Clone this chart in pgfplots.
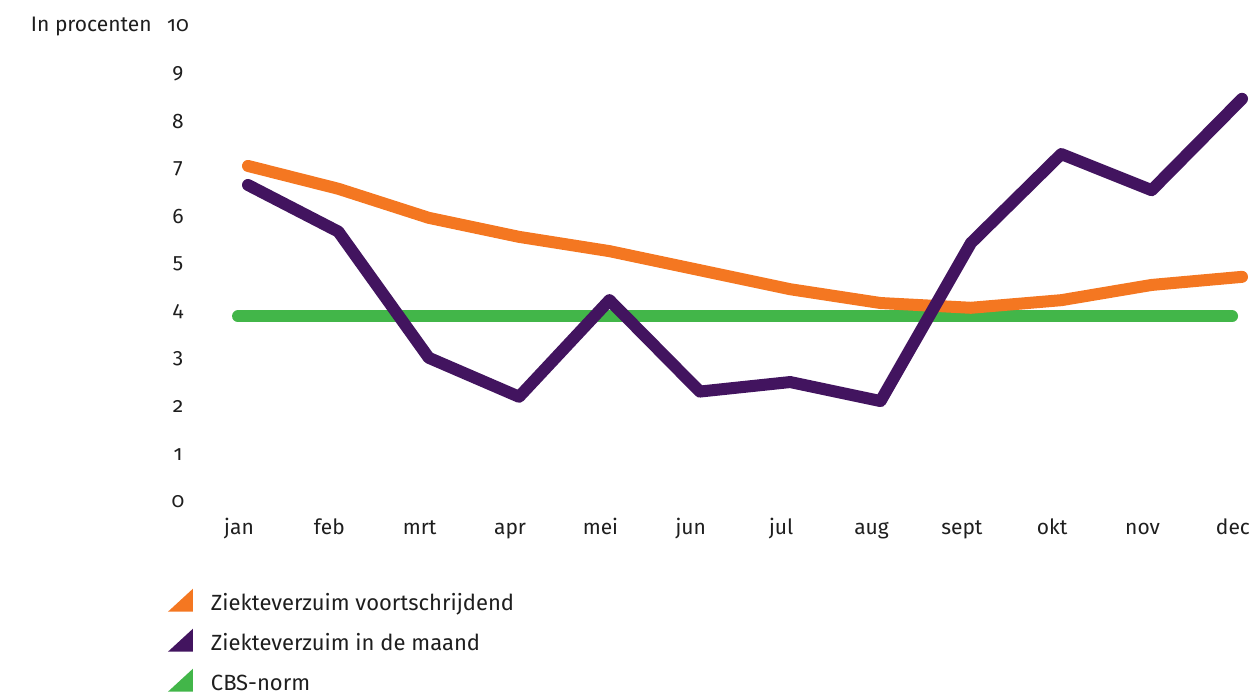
\documentclass[border=0pt]{standalone}
\usepackage{pgfplots}
\pgfplotsset{compat=1.18}
\usepackage{fontspec}
\setmainfont{Fira Sans}[Numbers=OldStyle]
\definecolor{cOrange}{HTML}{F47721}
\definecolor{cPurple}{HTML}{42145F}
\definecolor{cGreen}{HTML}{42B649}
\definecolor{cText}{HTML}{1E1E1E}
\begin{document}
\begin{tikzpicture}
\useasboundingbox (0,0) rectangle (626bp,346.5bp);
\begin{axis}[
  at={(124bp,95.5bp)}, anchor=south west,
  scale only axis, width=497bp, height=238bp,
  xmin=0, xmax=11, ymin=0, ymax=10,
  axis line style={draw=none}, tick style={draw=none},
  major tick length=0pt,
  xtick={0,...,11},
  xticklabels={jan,feb,mrt,apr,mei,jun,jul,aug,sept,okt,nov,dec},
  ytick={0,...,10},
  clip=false,
  /pgf/number format/assume math mode=true,
  ticklabel style={font=\fontsize{10.5bp}{12bp}\selectfont, text=cText},
  yticklabel style={anchor=center, xshift=-35bp},
  xticklabel style={anchor=base, yshift=-16bp, xshift=-4.5bp},
  every axis plot/.append style={line width=6bp, line cap=round, line join=round},
  legend style={at={(-0.0805,-0.1695)}, anchor=north west, draw=none, fill=none,
    inner sep=0pt, outer sep=0pt, row sep=0pt, column sep=0pt,
    font=\fontsize{11bp}{13bp}\selectfont, text=cText,
    nodes={inner sep=0pt, outer sep=0pt},
    cells={anchor=base west}},
  legend image code/.code={%
    \path[draw=none, fill=none] (0bp,-6bp) rectangle (21.5bp,14bp);
    \fill[#1, draw=none] (0bp,-0.5bp) -- (12.5bp,-0.5bp) -- (12.5bp,11bp) -- cycle;},
]
\addplot[cGreen, forget plot] coordinates {(-0.11,3.9) (10.89,3.9)};
\addplot[cOrange, forget plot] coordinates {
(0,7.06) (1,6.58) (2,5.97) (3,5.57) (4,5.27) (5,4.87) (6,4.47) (7,4.18) (8,4.08) (9,4.24) (10,4.56) (11,4.73)};
\addplot[cPurple, forget plot] coordinates {
(0,6.66) (1,5.68) (2,3.03) (3,2.21) (4,4.24) (5,2.32) (6,2.52) (7,2.12) (8,5.44) (9,7.31) (10,6.55) (11,8.47)};
\addlegendimage{cOrange}
\addlegendentry{Ziekteverzuim voortschrijdend}
\addlegendimage{cPurple}
\addlegendentry{Ziekteverzuim in de maand}
\addlegendimage{cGreen}
\addlegendentry{CBS-norm}
\end{axis}
\node[anchor=base east, inner sep=0pt, text=cText, font=\fontsize{10.5bp}{12bp}\selectfont] at (76bp,330.5bp) {In procenten};
\end{tikzpicture}
\end{document}
